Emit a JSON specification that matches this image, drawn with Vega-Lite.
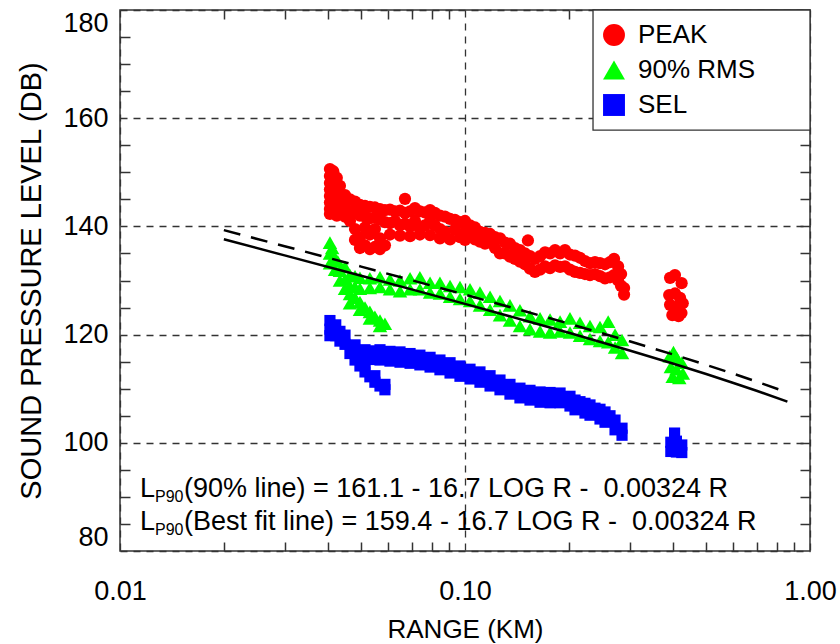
{
"$schema":"https://vega.github.io/schema/vega-lite/v6.json",
"width":690,"height":541,
"autosize":{"type":"none"},
"padding":{"left":120,"top":10,"right":30,"bottom":93},
"background":"white",
"config":{
"font":"Liberation Sans",
"view":{"stroke":"#333","strokeWidth":1.5},
"axis":{"labelFontSize":27,"titleFontSize":26,"titleFontWeight":"normal","labelColor":"#000","titleColor":"#000","tickColor":"#333","tickWidth":1.5,"gridColor":"#333","gridWidth":1.3,"gridDash":[7,6],"gridOpacity":1,"domain":false},
"legend":{"labelFontSize":26,"labelColor":"#000","symbolSize":480,"symbolStrokeWidth":0,"padding":12,"rowPadding":9,"labelOffset":11,"labelLimit":300}
},
"datasets":{
"best":[{"r":0.02,"db":137.61},{"r":0.03,"db":134.64},{"r":0.05,"db":130.87},{"r":0.07,"db":128.36},{"r":0.1,"db":125.68},{"r":0.15,"db":122.57},{"r":0.2,"db":120.33},{"r":0.3,"db":117.06},{"r":0.4,"db":114.65},{"r":0.5,"db":112.71},{"r":0.6,"db":111.06},{"r":0.7,"db":109.62},{"r":0.86,"db":107.61}],
"p90":[{"r":0.02,"db":139.31},{"r":0.03,"db":136.34},{"r":0.05,"db":132.57},{"r":0.07,"db":130.06},{"r":0.1,"db":127.38},{"r":0.15,"db":124.27},{"r":0.2,"db":122.03},{"r":0.3,"db":118.76},{"r":0.4,"db":116.35},{"r":0.5,"db":114.41},{"r":0.6,"db":112.76},{"r":0.7,"db":111.32},{"r":0.86,"db":109.31}],
"main":[{"r":0.01143,"db":90.0,"t":"L"},{"r":0.01533,"db":90.0,"t":"(90% line) = 161.1 - 16.7 LOG R - \u00a00.00324 R"},{"r":0.01143,"db":83.9,"t":"L"},{"r":0.01533,"db":83.9,"t":"(Best fit line) = 159.4 - 16.7 LOG R - \u00a00.00324 R"}],
"sub":[{"r":0.01263,"db":89.0,"t":"P90"},{"r":0.01263,"db":82.9,"t":"P90"}],
"pts":[
{"r":0.0406,"db":150.6,"s":"PEAK"},{"r":0.0406,"db":149.3,"s":"PEAK"},{"r":0.0406,"db":148.0,"s":"PEAK"},{"r":0.0406,"db":146.8,"s":"PEAK"},{"r":0.0406,"db":145.6,"s":"PEAK"},{"r":0.0406,"db":144.4,"s":"PEAK"},{"r":0.0406,"db":143.2,"s":"PEAK"},{"r":0.0406,"db":142.3,"s":"PEAK"},
{"r":0.0415,"db":150.2,"s":"PEAK"},{"r":0.0415,"db":147.9,"s":"PEAK"},{"r":0.0415,"db":145.4,"s":"PEAK"},{"r":0.0415,"db":143.0,"s":"PEAK"},
{"r":0.0425,"db":149.0,"s":"PEAK"},{"r":0.0425,"db":146.5,"s":"PEAK"},{"r":0.0425,"db":144.0,"s":"PEAK"},{"r":0.0425,"db":142.0,"s":"PEAK"},
{"r":0.0434,"db":147.5,"s":"PEAK"},{"r":0.0434,"db":145.0,"s":"PEAK"},{"r":0.0434,"db":142.6,"s":"PEAK"},
{"r":0.0449,"db":145.8,"s":"PEAK"},{"r":0.0449,"db":143.7,"s":"PEAK"},{"r":0.0449,"db":141.8,"s":"PEAK"},
{"r":0.0464,"db":145.0,"s":"PEAK"},{"r":0.0464,"db":142.8,"s":"PEAK"},{"r":0.0464,"db":141.0,"s":"PEAK"},
{"r":0.048,"db":144.6,"s":"PEAK"},{"r":0.048,"db":142.6,"s":"PEAK"},{"r":0.048,"db":139.5,"s":"PEAK"},{"r":0.048,"db":137.5,"s":"PEAK"},
{"r":0.0496,"db":144.0,"s":"PEAK"},{"r":0.0496,"db":142.0,"s":"PEAK"},{"r":0.0496,"db":138.0,"s":"PEAK"},{"r":0.0496,"db":136.0,"s":"PEAK"},
{"r":0.0513,"db":143.8,"s":"PEAK"},{"r":0.0513,"db":141.8,"s":"PEAK"},{"r":0.0513,"db":139.8,"s":"PEAK"},{"r":0.0513,"db":136.5,"s":"PEAK"},
{"r":0.053,"db":143.6,"s":"PEAK"},{"r":0.053,"db":141.5,"s":"PEAK"},{"r":0.053,"db":138.5,"s":"PEAK"},{"r":0.053,"db":135.8,"s":"PEAK"},
{"r":0.0548,"db":143.5,"s":"PEAK"},{"r":0.0548,"db":141.6,"s":"PEAK"},{"r":0.0548,"db":139.5,"s":"PEAK"},{"r":0.0548,"db":136.2,"s":"PEAK"},
{"r":0.0567,"db":143.2,"s":"PEAK"},{"r":0.0567,"db":141.3,"s":"PEAK"},{"r":0.0567,"db":137.8,"s":"PEAK"},{"r":0.0567,"db":135.8,"s":"PEAK"},
{"r":0.0586,"db":143.0,"s":"PEAK"},{"r":0.0586,"db":140.8,"s":"PEAK"},{"r":0.0586,"db":136.5,"s":"PEAK"},
{"r":0.0606,"db":143.1,"s":"PEAK"},{"r":0.0606,"db":140.6,"s":"PEAK"},{"r":0.0606,"db":138.5,"s":"PEAK"},
{"r":0.0627,"db":142.8,"s":"PEAK"},{"r":0.0627,"db":141.0,"s":"PEAK"},
{"r":0.0648,"db":142.9,"s":"PEAK"},{"r":0.0648,"db":140.2,"s":"PEAK"},{"r":0.0648,"db":138.3,"s":"PEAK"},
{"r":0.067,"db":145.1,"s":"PEAK"},{"r":0.067,"db":142.5,"s":"PEAK"},{"r":0.067,"db":140.5,"s":"PEAK"},
{"r":0.0693,"db":142.8,"s":"PEAK"},{"r":0.0693,"db":140.0,"s":"PEAK"},{"r":0.0693,"db":138.2,"s":"PEAK"},
{"r":0.0716,"db":143.4,"s":"PEAK"},{"r":0.0716,"db":141.0,"s":"PEAK"},
{"r":0.074,"db":142.8,"s":"PEAK"},{"r":0.074,"db":139.5,"s":"PEAK"},{"r":0.074,"db":138.5,"s":"PEAK"},
{"r":0.0765,"db":142.6,"s":"PEAK"},{"r":0.0765,"db":140.2,"s":"PEAK"},
{"r":0.0792,"db":143.0,"s":"PEAK"},{"r":0.0792,"db":141.0,"s":"PEAK"},{"r":0.0792,"db":138.4,"s":"PEAK"},
{"r":0.0818,"db":142.5,"s":"PEAK"},{"r":0.0818,"db":140.2,"s":"PEAK"},
{"r":0.0846,"db":142.0,"s":"PEAK"},{"r":0.0846,"db":139.5,"s":"PEAK"},{"r":0.0846,"db":137.8,"s":"PEAK"},
{"r":0.0875,"db":141.8,"s":"PEAK"},{"r":0.0875,"db":139.0,"s":"PEAK"},
{"r":0.0905,"db":141.4,"s":"PEAK"},{"r":0.0905,"db":137.6,"s":"PEAK"},
{"r":0.0935,"db":141.2,"s":"PEAK"},{"r":0.0935,"db":139.4,"s":"PEAK"},
{"r":0.0967,"db":140.8,"s":"PEAK"},{"r":0.0967,"db":138.0,"s":"PEAK"},
{"r":0.1,"db":141.0,"s":"PEAK"},{"r":0.1,"db":139.0,"s":"PEAK"},{"r":0.1,"db":137.5,"s":"PEAK"},
{"r":0.1034,"db":140.2,"s":"PEAK"},{"r":0.1034,"db":138.2,"s":"PEAK"},
{"r":0.1069,"db":139.8,"s":"PEAK"},{"r":0.1069,"db":137.6,"s":"PEAK"},
{"r":0.1105,"db":139.0,"s":"PEAK"},{"r":0.1105,"db":137.2,"s":"PEAK"},
{"r":0.1143,"db":138.8,"s":"PEAK"},{"r":0.1143,"db":136.8,"s":"PEAK"},
{"r":0.1182,"db":138.6,"s":"PEAK"},{"r":0.1182,"db":137.0,"s":"PEAK"},
{"r":0.1222,"db":138.0,"s":"PEAK"},{"r":0.1222,"db":136.0,"s":"PEAK"},
{"r":0.1263,"db":137.8,"s":"PEAK"},{"r":0.1263,"db":135.0,"s":"PEAK"},
{"r":0.1306,"db":137.0,"s":"PEAK"},{"r":0.1306,"db":135.0,"s":"PEAK"},
{"r":0.135,"db":136.8,"s":"PEAK"},{"r":0.135,"db":134.4,"s":"PEAK"},
{"r":0.1396,"db":136.0,"s":"PEAK"},{"r":0.1396,"db":134.0,"s":"PEAK"},
{"r":0.1443,"db":135.6,"s":"PEAK"},{"r":0.1443,"db":133.5,"s":"PEAK"},
{"r":0.1492,"db":135.0,"s":"PEAK"},{"r":0.1492,"db":133.0,"s":"PEAK"},
{"r":0.1522,"db":137.4,"s":"PEAK"},
{"r":0.1543,"db":134.5,"s":"PEAK"},{"r":0.1543,"db":132.2,"s":"PEAK"},
{"r":0.1595,"db":134.0,"s":"PEAK"},{"r":0.1595,"db":131.6,"s":"PEAK"},
{"r":0.165,"db":134.5,"s":"PEAK"},{"r":0.165,"db":132.0,"s":"PEAK"},
{"r":0.1706,"db":135.2,"s":"PEAK"},{"r":0.1706,"db":132.6,"s":"PEAK"},
{"r":0.1764,"db":135.0,"s":"PEAK"},{"r":0.1764,"db":132.3,"s":"PEAK"},
{"r":0.1824,"db":135.6,"s":"PEAK"},{"r":0.1824,"db":132.8,"s":"PEAK"},
{"r":0.1886,"db":135.0,"s":"PEAK"},{"r":0.1886,"db":132.5,"s":"PEAK"},
{"r":0.1949,"db":135.6,"s":"PEAK"},{"r":0.1949,"db":132.6,"s":"PEAK"},
{"r":0.2015,"db":134.8,"s":"PEAK"},{"r":0.2015,"db":132.0,"s":"PEAK"},
{"r":0.2084,"db":134.6,"s":"PEAK"},{"r":0.2084,"db":131.6,"s":"PEAK"},
{"r":0.2154,"db":134.2,"s":"PEAK"},{"r":0.2154,"db":131.4,"s":"PEAK"},
{"r":0.2227,"db":133.6,"s":"PEAK"},{"r":0.2227,"db":131.2,"s":"PEAK"},
{"r":0.2303,"db":133.2,"s":"PEAK"},{"r":0.2303,"db":131.0,"s":"PEAK"},
{"r":0.2381,"db":133.4,"s":"PEAK"},{"r":0.2381,"db":131.2,"s":"PEAK"},
{"r":0.2462,"db":133.2,"s":"PEAK"},{"r":0.2462,"db":130.8,"s":"PEAK"},
{"r":0.2546,"db":133.0,"s":"PEAK"},{"r":0.2546,"db":130.4,"s":"PEAK"},
{"r":0.2632,"db":133.4,"s":"PEAK"},{"r":0.2632,"db":130.6,"s":"PEAK"},
{"r":0.2704,"db":134.0,"s":"PEAK"},{"r":0.2704,"db":131.0,"s":"PEAK"},
{"r":0.2778,"db":132.6,"s":"PEAK"},{"r":0.2778,"db":130.0,"s":"PEAK"},
{"r":0.2834,"db":131.2,"s":"PEAK"},{"r":0.2834,"db":129.0,"s":"PEAK"},
{"r":0.2891,"db":128.6,"s":"PEAK"},{"r":0.2891,"db":127.4,"s":"PEAK"},
{"r":0.393,"db":130.5,"s":"PEAK"},{"r":0.406,"db":131.0,"s":"PEAK"},{"r":0.4245,"db":129.5,"s":"PEAK"},{"r":0.3907,"db":127.3,"s":"PEAK"},{"r":0.4062,"db":127.6,"s":"PEAK"},{"r":0.42,"db":126.8,"s":"PEAK"},{"r":0.393,"db":125.5,"s":"PEAK"},{"r":0.413,"db":125.2,"s":"PEAK"},{"r":0.4277,"db":125.8,"s":"PEAK"},{"r":0.399,"db":123.6,"s":"PEAK"},{"r":0.416,"db":123.4,"s":"PEAK"},{"r":0.408,"db":124.6,"s":"PEAK"},{"r":0.424,"db":124.0,"s":"PEAK"},
{"r":0.0406,"db":137.0,"s":"90% RMS"},{"r":0.0406,"db":135.0,"s":"90% RMS"},{"r":0.0406,"db":133.2,"s":"90% RMS"},{"r":0.0412,"db":136.0,"s":"90% RMS"},{"r":0.042,"db":134.2,"s":"90% RMS"},{"r":0.042,"db":132.0,"s":"90% RMS"},{"r":0.0428,"db":133.5,"s":"90% RMS"},{"r":0.0434,"db":131.8,"s":"90% RMS"},{"r":0.0434,"db":130.0,"s":"90% RMS"},{"r":0.0449,"db":132.5,"s":"90% RMS"},{"r":0.0449,"db":130.2,"s":"90% RMS"},{"r":0.0464,"db":131.0,"s":"90% RMS"},{"r":0.0464,"db":129.0,"s":"90% RMS"},
{"r":0.0449,"db":128.5,"s":"90% RMS"},{"r":0.0464,"db":127.5,"s":"90% RMS"},{"r":0.048,"db":126.8,"s":"90% RMS"},{"r":0.0496,"db":126.0,"s":"90% RMS"},{"r":0.0513,"db":125.0,"s":"90% RMS"},{"r":0.053,"db":124.2,"s":"90% RMS"},{"r":0.0548,"db":123.3,"s":"90% RMS"},{"r":0.0567,"db":122.6,"s":"90% RMS"},{"r":0.0586,"db":122.0,"s":"90% RMS"},{"r":0.0464,"db":125.8,"s":"90% RMS"},{"r":0.0496,"db":124.6,"s":"90% RMS"},{"r":0.053,"db":123.0,"s":"90% RMS"},{"r":0.0567,"db":121.6,"s":"90% RMS"},
{"r":0.048,"db":130.8,"s":"90% RMS"},{"r":0.048,"db":128.8,"s":"90% RMS"},{"r":0.0496,"db":130.5,"s":"90% RMS"},{"r":0.0496,"db":128.5,"s":"90% RMS"},{"r":0.053,"db":130.4,"s":"90% RMS"},{"r":0.053,"db":128.6,"s":"90% RMS"},{"r":0.0567,"db":130.6,"s":"90% RMS"},{"r":0.0567,"db":128.8,"s":"90% RMS"},{"r":0.0606,"db":130.2,"s":"90% RMS"},{"r":0.0606,"db":128.4,"s":"90% RMS"},{"r":0.0648,"db":130.0,"s":"90% RMS"},{"r":0.0648,"db":128.0,"s":"90% RMS"},{"r":0.0693,"db":130.4,"s":"90% RMS"},{"r":0.0693,"db":128.4,"s":"90% RMS"},{"r":0.074,"db":130.6,"s":"90% RMS"},{"r":0.074,"db":128.4,"s":"90% RMS"},{"r":0.0792,"db":129.6,"s":"90% RMS"},{"r":0.0792,"db":127.8,"s":"90% RMS"},{"r":0.0846,"db":129.6,"s":"90% RMS"},{"r":0.0846,"db":127.6,"s":"90% RMS"},{"r":0.0905,"db":129.0,"s":"90% RMS"},{"r":0.0905,"db":127.0,"s":"90% RMS"},{"r":0.0967,"db":128.8,"s":"90% RMS"},{"r":0.0967,"db":126.6,"s":"90% RMS"},{"r":0.1034,"db":128.4,"s":"90% RMS"},{"r":0.1034,"db":126.2,"s":"90% RMS"},{"r":0.1105,"db":127.8,"s":"90% RMS"},{"r":0.1105,"db":125.4,"s":"90% RMS"},{"r":0.1182,"db":127.0,"s":"90% RMS"},{"r":0.1182,"db":124.6,"s":"90% RMS"},{"r":0.1263,"db":126.2,"s":"90% RMS"},{"r":0.1263,"db":123.6,"s":"90% RMS"},{"r":0.135,"db":125.4,"s":"90% RMS"},{"r":0.135,"db":122.6,"s":"90% RMS"},{"r":0.1443,"db":124.5,"s":"90% RMS"},{"r":0.1443,"db":121.6,"s":"90% RMS"},{"r":0.1543,"db":123.4,"s":"90% RMS"},{"r":0.1543,"db":121.0,"s":"90% RMS"},{"r":0.165,"db":123.0,"s":"90% RMS"},{"r":0.165,"db":120.6,"s":"90% RMS"},{"r":0.1764,"db":122.8,"s":"90% RMS"},{"r":0.1764,"db":120.4,"s":"90% RMS"},{"r":0.1886,"db":122.4,"s":"90% RMS"},{"r":0.1886,"db":120.6,"s":"90% RMS"},{"r":0.2015,"db":123.0,"s":"90% RMS"},{"r":0.2015,"db":120.4,"s":"90% RMS"},{"r":0.2154,"db":122.2,"s":"90% RMS"},{"r":0.2154,"db":119.8,"s":"90% RMS"},{"r":0.2303,"db":121.6,"s":"90% RMS"},{"r":0.2303,"db":119.2,"s":"90% RMS"},{"r":0.2462,"db":121.4,"s":"90% RMS"},{"r":0.2462,"db":118.8,"s":"90% RMS"},{"r":0.26,"db":122.4,"s":"90% RMS"},{"r":0.26,"db":118.6,"s":"90% RMS"},{"r":0.2722,"db":120.0,"s":"90% RMS"},{"r":0.2722,"db":117.6,"s":"90% RMS"},{"r":0.2852,"db":119.0,"s":"90% RMS"},{"r":0.2852,"db":116.6,"s":"90% RMS"},
{"r":0.392,"db":116.0,"s":"90% RMS"},{"r":0.402,"db":116.8,"s":"90% RMS"},{"r":0.412,"db":115.6,"s":"90% RMS"},{"r":0.425,"db":114.8,"s":"90% RMS"},{"r":0.395,"db":114.0,"s":"90% RMS"},{"r":0.41,"db":113.6,"s":"90% RMS"},{"r":0.428,"db":112.8,"s":"90% RMS"},{"r":0.4,"db":112.2,"s":"90% RMS"},{"r":0.418,"db":112.0,"s":"90% RMS"},
{"r":0.0406,"db":122.6,"s":"SEL"},{"r":0.0406,"db":121.0,"s":"SEL"},{"r":0.0406,"db":119.8,"s":"SEL"},{"r":0.0422,"db":121.8,"s":"SEL"},{"r":0.0422,"db":119.8,"s":"SEL"},{"r":0.0434,"db":120.6,"s":"SEL"},{"r":0.0434,"db":118.8,"s":"SEL"},
{"r":0.0449,"db":119.9,"s":"SEL"},{"r":0.0449,"db":118.2,"s":"SEL"},{"r":0.048,"db":118.1,"s":"SEL"},{"r":0.048,"db":116.8,"s":"SEL"},{"r":0.0513,"db":117.2,"s":"SEL"},{"r":0.0513,"db":115.3,"s":"SEL"},{"r":0.0548,"db":117.0,"s":"SEL"},{"r":0.0548,"db":115.4,"s":"SEL"},{"r":0.0567,"db":117.2,"s":"SEL"},{"r":0.0567,"db":115.3,"s":"SEL"},{"r":0.0606,"db":116.9,"s":"SEL"},{"r":0.0606,"db":115.1,"s":"SEL"},{"r":0.0648,"db":116.8,"s":"SEL"},{"r":0.0648,"db":114.9,"s":"SEL"},{"r":0.0693,"db":116.5,"s":"SEL"},{"r":0.0693,"db":114.7,"s":"SEL"},{"r":0.074,"db":116.2,"s":"SEL"},{"r":0.074,"db":114.4,"s":"SEL"},{"r":0.0792,"db":115.8,"s":"SEL"},{"r":0.0792,"db":114.0,"s":"SEL"},{"r":0.0846,"db":115.3,"s":"SEL"},{"r":0.0846,"db":113.5,"s":"SEL"},{"r":0.0905,"db":114.8,"s":"SEL"},{"r":0.0905,"db":112.9,"s":"SEL"},{"r":0.0967,"db":114.2,"s":"SEL"},{"r":0.0967,"db":112.3,"s":"SEL"},{"r":0.1034,"db":113.6,"s":"SEL"},{"r":0.1034,"db":111.8,"s":"SEL"},{"r":0.1105,"db":113.1,"s":"SEL"},{"r":0.1105,"db":111.2,"s":"SEL"},{"r":0.1182,"db":112.4,"s":"SEL"},{"r":0.1182,"db":110.5,"s":"SEL"},{"r":0.1263,"db":111.6,"s":"SEL"},{"r":0.1263,"db":109.8,"s":"SEL"},{"r":0.135,"db":110.8,"s":"SEL"},{"r":0.135,"db":109.0,"s":"SEL"},{"r":0.1443,"db":110.1,"s":"SEL"},{"r":0.1443,"db":108.3,"s":"SEL"},{"r":0.1543,"db":109.7,"s":"SEL"},{"r":0.1543,"db":107.9,"s":"SEL"},{"r":0.165,"db":109.4,"s":"SEL"},{"r":0.165,"db":107.5,"s":"SEL"},{"r":0.1764,"db":109.3,"s":"SEL"},{"r":0.1764,"db":107.4,"s":"SEL"},{"r":0.1886,"db":109.2,"s":"SEL"},{"r":0.1886,"db":107.4,"s":"SEL"},{"r":0.2015,"db":108.6,"s":"SEL"},{"r":0.2015,"db":106.8,"s":"SEL"},{"r":0.2084,"db":107.9,"s":"SEL"},{"r":0.2084,"db":106.1,"s":"SEL"},{"r":0.2154,"db":107.6,"s":"SEL"},{"r":0.2227,"db":107.3,"s":"SEL"},{"r":0.2227,"db":105.5,"s":"SEL"},{"r":0.2303,"db":107.0,"s":"SEL"},{"r":0.2303,"db":105.1,"s":"SEL"},{"r":0.2381,"db":106.4,"s":"SEL"},{"r":0.2462,"db":106.2,"s":"SEL"},{"r":0.2462,"db":104.4,"s":"SEL"},{"r":0.2546,"db":105.7,"s":"SEL"},{"r":0.2546,"db":103.8,"s":"SEL"},{"r":0.2632,"db":105.0,"s":"SEL"},{"r":0.2722,"db":104.2,"s":"SEL"},{"r":0.2722,"db":102.4,"s":"SEL"},{"r":0.2852,"db":102.7,"s":"SEL"},{"r":0.2852,"db":101.4,"s":"SEL"},
{"r":0.0464,"db":116.5,"s":"SEL"},{"r":0.048,"db":115.3,"s":"SEL"},{"r":0.0496,"db":114.2,"s":"SEL"},{"r":0.0513,"db":113.1,"s":"SEL"},{"r":0.053,"db":112.2,"s":"SEL"},{"r":0.0548,"db":111.2,"s":"SEL"},{"r":0.0567,"db":110.5,"s":"SEL"},{"r":0.0586,"db":109.8,"s":"SEL"},{"r":0.0496,"db":115.6,"s":"SEL"},{"r":0.0513,"db":114.4,"s":"SEL"},{"r":0.0548,"db":112.4,"s":"SEL"},{"r":0.0586,"db":110.8,"s":"SEL"},
{"r":0.405,"db":101.8,"s":"SEL"},{"r":0.395,"db":100.1,"s":"SEL"},{"r":0.41,"db":100.3,"s":"SEL"},{"r":0.425,"db":99.6,"s":"SEL"},{"r":0.395,"db":98.4,"s":"SEL"},{"r":0.41,"db":98.3,"s":"SEL"},{"r":0.425,"db":98.2,"s":"SEL"}
]
},
"resolve":{"axis":{"x":"independent","y":"independent"}},
"layer":[
{"data":{"name":"pts"},
"transform":[{"filter":"datum.s == 'PEAK'"}],
"mark":{"type":"point","filled":true,"opacity":1,"strokeWidth":0,"size":150},
"encoding":{
"x":{"field":"r","type":"quantitative","scale":{"type":"log","domain":[0.01,1],"nice":false},"axis":{"orient":"bottom","values":[0.01,0.1,1],"format":".2f","grid":true,"ticks":false,"labelFlush":false,"labelPadding":27,"title":"RANGE (KM)","titlePadding":12}},
"y":{"field":"db","type":"quantitative","scale":{"domain":[80,180],"nice":false,"zero":false},"axis":{"orient":"left","values":[80,100,120,140,160,180],"grid":true,"ticks":false,"labelFlush":true,"labelPadding":12,"title":"SOUND PRESSURE LEVEL (DB)","titleFontSize":29,"titlePadding":16}},
"color":{"field":"s","type":"nominal","scale":{"domain":["PEAK","90% RMS","SEL"],"range":["#ff0000","#00ff00","#0000ff"]},"legend":{"title":null,"orient":"none","legendX":469,"legendY":0}},
"shape":{"field":"s","type":"nominal","scale":{"domain":["PEAK","90% RMS","SEL"],"range":["circle","triangle-up","square"]},"legend":{"title":null,"orient":"none","legendX":469,"legendY":0}}
}},
{"data":{"name":"pts"},
"transform":[{"filter":"datum.s == '90% RMS'"}],
"mark":{"type":"point","filled":true,"opacity":1,"strokeWidth":0,"size":210},
"encoding":{
"x":{"field":"r","type":"quantitative","axis":null},
"y":{"field":"db","type":"quantitative","axis":null},
"color":{"field":"s","type":"nominal"},
"shape":{"field":"s","type":"nominal"}
}},
{"data":{"name":"pts"},
"transform":[{"filter":"datum.s == 'SEL'"}],
"mark":{"type":"point","filled":true,"opacity":1,"strokeWidth":0,"size":125},
"encoding":{
"x":{"field":"r","type":"quantitative","axis":null},
"y":{"field":"db","type":"quantitative","axis":null},
"color":{"field":"s","type":"nominal"},
"shape":{"field":"s","type":"nominal"}
}},
{"data":{"values":[{}]},
"mark":{"type":"rect","fill":"white","stroke":"#333","strokeWidth":1.3},
"encoding":{
"x":{"datum":0.235,"type":"quantitative","axis":null},
"x2":{"datum":1},
"y":{"datum":180,"type":"quantitative","axis":null},
"y2":{"datum":157.8}
}},
{"data":{"name":"best"},
"mark":{"type":"line","color":"#000","strokeWidth":2.5},
"encoding":{
"x":{"field":"r","type":"quantitative","axis":{"orient":"top","values":[0.02,0.03,0.04,0.05,0.06,0.07,0.08,0.09,0.2,0.3,0.4,0.5,0.6,0.7,0.8,0.9],"labels":false,"grid":false,"tickSize":-9,"title":null}},
"y":{"field":"db","type":"quantitative","axis":{"orient":"right","values":[85,90,95,100,105,110,115,120,125,130,135,140,145,150,155,160,165,170,175],"labels":false,"grid":false,"tickSize":-10,"title":null}}
}},
{"data":{"name":"p90"},
"mark":{"type":"line","color":"#000","strokeWidth":2.5,"strokeDash":[17,11]},
"encoding":{
"x":{"field":"r","type":"quantitative","axis":{"orient":"bottom","values":[0.02,0.03,0.04,0.05,0.06,0.07,0.08,0.09,0.2,0.3,0.4,0.5,0.6,0.7,0.8,0.9],"labels":false,"grid":false,"tickSize":-9,"title":null}},
"y":{"field":"db","type":"quantitative","axis":{"orient":"left","values":[85,90,95,105,110,115,125,130,135,145,150,155,165,170,175],"labels":false,"grid":false,"tickSize":-10,"title":null}}
}},
{"data":{"name":"main"},
"mark":{"type":"text","align":"left","baseline":"alphabetic","fontSize":27,"color":"#000"},
"encoding":{"x":{"field":"r","type":"quantitative","axis":null},"y":{"field":"db","type":"quantitative","axis":null},"text":{"field":"t"}}},
{"data":{"name":"sub"},
"mark":{"type":"text","align":"left","baseline":"alphabetic","fontSize":16,"color":"#000"},
"encoding":{"x":{"field":"r","type":"quantitative","axis":null},"y":{"field":"db","type":"quantitative","axis":null},"text":{"field":"t"}}}
]
}
